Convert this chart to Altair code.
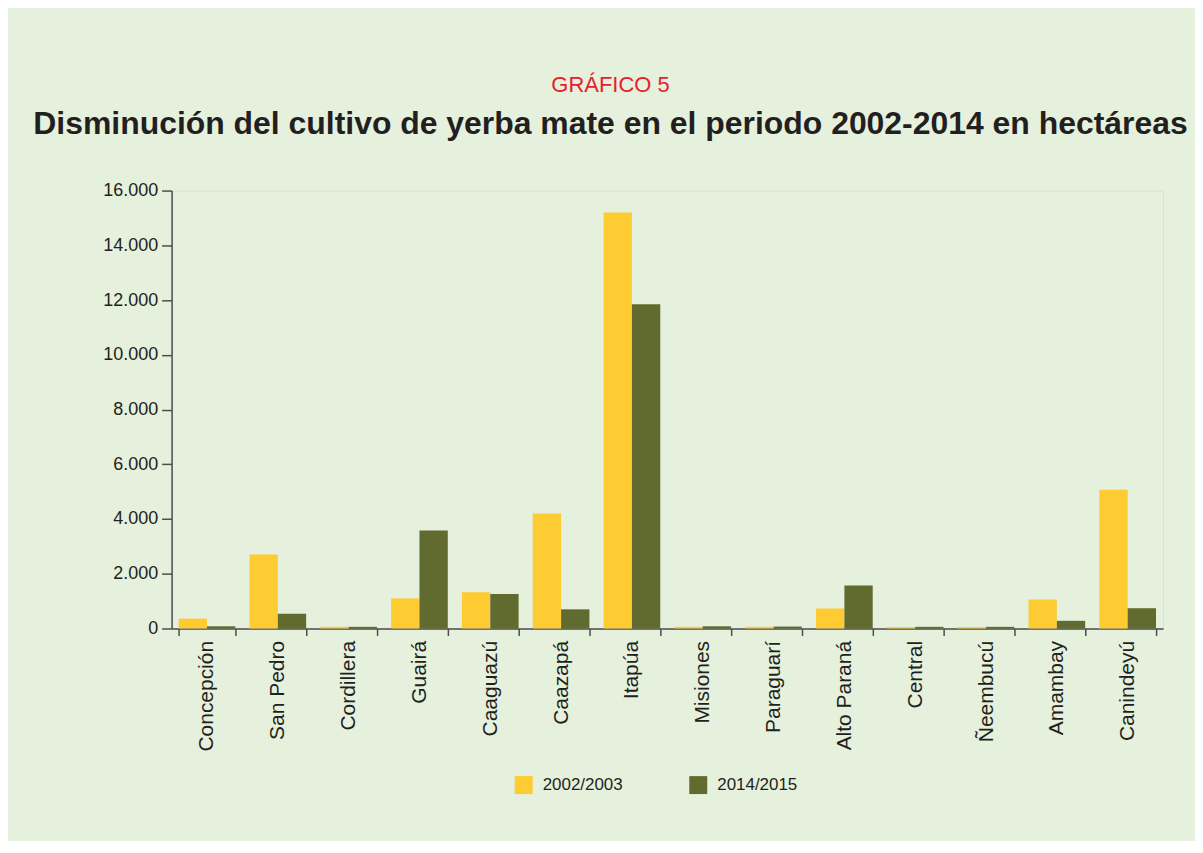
import altair as alt
import pandas as pd

departamentos = ["Concepción", "San Pedro", "Cordillera", "Guairá", "Caaguazú", "Caazapá",
                 "Itapúa", "Misiones", "Paraguarí", "Alto Paraná", "Central", "Ñeembucú",
                 "Amambay", "Canindeyú"]
serie_2002 = [360, 2700, 60, 1100, 1320, 4200, 15200, 60, 60, 730, 50, 50, 1060, 5070]
serie_2014 = [80, 540, 60, 3580, 1260, 700, 11850, 80, 70, 1570, 60, 60, 280, 740]
periodos = ["2002/2003", "2014/2015"]
colores = ["#fecb32", "#626b2f"]
y_ticks = [0, 2000, 4000, 6000, 8000, 10000, 12000, 14000, 16000]

rows = []
for i, d in enumerate(departamentos):
    rows.append({"dep": d, "periodo": periodos[0], "ha": serie_2002[i]})
    rows.append({"dep": d, "periodo": periodos[1], "ha": serie_2014[i]})
df = pd.DataFrame(rows)

FONT = "Liberation Sans"
AXIS_COLOR = "#4d4d4d"
TEXT_COLOR = "#231f20"

chart = alt.Chart(df).mark_bar().encode(
    x=alt.X("dep:N", sort=departamentos,
            scale=alt.Scale(paddingInner=0.2, paddingOuter=0.1),
            axis=alt.Axis(title=None, labelAngle=-90, labelFontSize=21, labelColor=TEXT_COLOR,
                          labelPadding=5, tickBand="extent", tickSize=7, tickColor=AXIS_COLOR,
                          tickWidth=1.5, domainColor=AXIS_COLOR, domainWidth=1.5,
                          labelFont=FONT, grid=False)),
    xOffset=alt.XOffset("periodo:N", sort=periodos),
    y=alt.Y("ha:Q", scale=alt.Scale(domain=[0, 16000], nice=False),
            axis=alt.Axis(title=None, values=y_ticks, grid=False,
                          labelExpr="replace(format(datum.value, ','), ',', '.')",
                          labelFontSize=18, labelColor=TEXT_COLOR, labelFont=FONT,
                          labelPadding=4, tickSize=10, tickColor=AXIS_COLOR, tickWidth=1.5,
                          domainColor=AXIS_COLOR, domainWidth=1.5)),
    color=alt.Color("periodo:N", sort=periodos,
                    scale=alt.Scale(domain=periodos, range=colores),
                    legend=alt.Legend(title=None, orient="none", direction="horizontal",
                                      legendX=344, legendY=587,
                                      symbolType="square", symbolSize=324,
                                      symbolStrokeWidth=0, labelFontSize=17,
                                      labelColor=TEXT_COLOR, labelFont=FONT,
                                      labelOffset=10, columnPadding=66)),
).properties(
    width=994,
    height=439,
    background="#e5f1dc",
    autosize=alt.AutoSizeParams(type="none"),
    padding={"left": 164, "top": 182, "right": 32, "bottom": 212},
    title=alt.TitleParams(
        text="GRÁFICO 5",
        subtitle="Disminución del cultivo de yerba mate en el periodo 2002-2014 en hectáreas",
        anchor="middle",
        frame="group",
        dx=-57,
        offset=41,
        font=FONT,
        fontSize=22,
        fontWeight="normal",
        color="#e5202e",
        subtitleFont=FONT,
        subtitleFontSize=32,
        subtitleFontWeight="bold",
        subtitleColor=TEXT_COLOR,
        subtitlePadding=12,
    ),
).configure_view(stroke=None, strokeWidth=0, fill="#e5f1dc").configure_axis(grid=False).configure(font=FONT)

chart.save("out.html", embed_options={"renderer": "svg", "actions": False})
